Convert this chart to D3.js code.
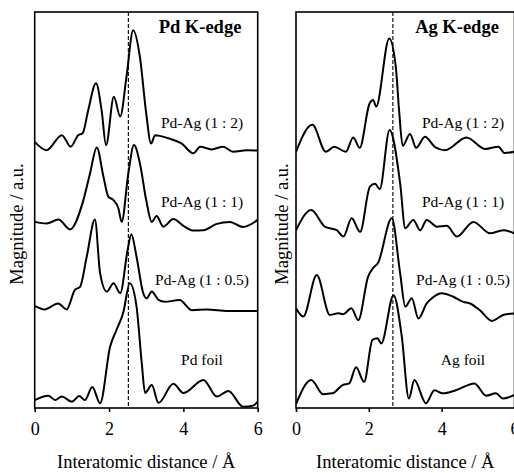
<!DOCTYPE html>
<html>
<head>
<meta charset="utf-8">
<script src="https://cdn.jsdelivr.net/npm/d3@7"></script>
<style>
  body { margin: 0; background: #fff; }
  svg { display: block; font-family: "Liberation Serif", "Times New Roman", serif; }
</style>
</head>
<body>
<div id="chart"></div>
<script>
//____________________________DATA________________________//
// [distance (Å), magnitude (a.u., stacked offset included)]
const pdFoil = [[0, 2.0], [0.37, 3.1], [0.55, 2.0], [0.73, 2.9], [1.0, 1.6], [1.2, 3.0], [1.35, 2.0], [1.55, 5.3],
    [1.76, 1.2], [2.03, 15.5], [2.2, 19.7], [2.38, 24.0], [2.56, 31.5], [2.74, 25.6], [2.88, 11.4], [2.97, 3.8],
    [3.15, 5.8], [3.33, 1.3], [3.73, 6.1], [4.0, 3.8], [4.54, 7.1], [4.9, 2.9], [5.21, 4.3], [5.61, 0.3], [5.88, 0.6], [6.0, 1.6]]

const pdAg105Pd = [[0, 25.8], [0.27, 24.9], [0.63, 26.4], [0.86, 24.9], [1.08, 29.8], [1.22, 30.6], [1.4, 38.2],
    [1.62, 47.6], [1.76, 34.0], [1.94, 29.4], [2.12, 31.5], [2.3, 29.0], [2.5, 39.9], [2.6, 43.9], [2.74, 38.2],
    [2.92, 29.0], [3.01, 27.7], [3.15, 29.4], [3.33, 27.3], [3.5, 26.8], [3.9, 27.3], [4.23, 24.7], [4.63, 24.9],
    [5.2, 24.5], [6.0, 24.5]]

const pdAg11Pd = [[0, 47.0], [0.32, 46.6], [0.64, 47.6], [0.95, 45.1], [1.31, 52.5], [1.49, 59.3], [1.67, 65.8],
    [1.85, 58.4], [1.98, 53.4], [2.12, 52.5], [2.25, 50.5], [2.34, 47.0], [2.52, 59.3], [2.67, 66.4], [2.83, 61.8],
    [3.0, 52.5], [3.15, 47.0], [3.28, 48.5], [3.46, 45.8], [3.73, 47.7], [4.0, 46.0], [4.27, 44.8], [4.54, 44.9],
    [4.9, 46.5], [5.25, 47.0], [5.6, 45.7], [6.0, 47.5]]

const pdAg12Pd = [[0, 67.2], [0.32, 65.1], [0.73, 68.9], [0.97, 66.0], [1.17, 68.9], [1.29, 69.4], [1.44, 75.2],
    [1.65, 82.0], [1.8, 75.2], [1.92, 66.4], [2.13, 78.6], [2.3, 73.6], [2.47, 83.7], [2.65, 95.4], [2.83, 88.7],
    [3.0, 74.4], [3.13, 66.8], [3.24, 68.9], [3.6, 68.1], [3.95, 66.8], [4.27, 64.3], [4.45, 66.0], [4.76, 65.3],
    [5.07, 66.0], [5.34, 64.7], [5.7, 65.1], [6.0, 65.0]]

const agFoil = [[0, 1.0], [0.42, 7.1], [0.74, 3.5], [1.0, 3.7], [1.28, 5.8], [1.46, 6.2], [1.65, 10.3], [1.87, 6.6],
    [2.1, 17.2], [2.24, 17.6], [2.34, 16.3], [2.68, 28.5], [2.9, 18.4], [3.1, 2.4], [3.25, 7.1], [3.57, 1.2],
    [3.8, 4.5], [4.03, 3.7], [4.39, 4.5], [4.9, 6.2], [5.22, 3.1], [5.49, 3.7], [5.68, 2.4], [6.0, 3.3]]

const pdAg105Ag = [[0, 25.2], [0.2, 23.1], [0.57, 33.6], [0.93, 23.5], [1.16, 23.9], [1.3, 23.7], [1.52, 25.2],
    [1.71, 22.2], [1.98, 33.2], [2.12, 35.4], [2.25, 36.6], [2.63, 47.9], [2.86, 34.0], [3.0, 25.6], [3.18, 27.7],
    [3.36, 22.6], [3.59, 26.4], [3.73, 27.7], [4.0, 29.0], [4.32, 28.1], [4.59, 26.8], [4.78, 26.4], [5.05, 24.7],
    [5.38, 22.0], [5.69, 23.5], [6.0, 23.9]]

const pdAg11Ag = [[0, 44.9], [0.42, 50.0], [0.79, 45.8], [1.12, 44.9], [1.3, 43.3], [1.53, 47.9], [1.76, 44.5],
    [2.03, 55.9], [2.17, 56.6], [2.3, 55.3], [2.57, 70.2], [2.86, 56.7], [3.0, 45.4], [3.22, 47.5], [3.41, 44.9],
    [3.59, 47.5], [3.87, 45.8], [4.14, 46.0], [4.42, 43.3], [4.87, 47.0], [5.33, 44.1], [5.69, 44.9], [6.0, 44.1]]

const pdAg12Ag = [[0, 64.7], [0.45, 71.5], [0.82, 64.7], [1.05, 66.0], [1.37, 64.7], [1.57, 68.3], [1.75, 65.7],
    [2.02, 76.9], [2.12, 77.8], [2.2, 76.1], [2.56, 93.3], [2.74, 86.2], [2.83, 75.2], [2.93, 66.2], [3.13, 69.2],
    [3.3, 65.7], [3.54, 68.5], [3.82, 65.9], [4.1, 65.1], [4.68, 68.3], [5.2, 65.4], [5.56, 66.0], [5.72, 64.4], [6.0, 64.7]]

const xTicks = [0, 2, 4, 6]
const pdLabels = ['Pd-Ag (1 : 2)', 'Pd-Ag (1 : 1)', 'Pd-Ag (1 : 0.5)', 'Pd foil']
const agLabels = ['Pd-Ag (1 : 2)', 'Pd-Ag (1 : 1)', 'Pd-Ag (1 : 0.5)', 'Ag foil']
// label anchor heights (a.u.) for each curve label
const labelLevels = [70.6, 50.8, 31.0, 10.9]
const pdEdge = 2.52
const agEdge = 2.66

//____________________________LAYOUT________________________//
const WIDTH = 514, HEIGHT = 473
const TOP = 12, BOTTOM = 408

const svg = d3.select('#chart').append('svg')
    .attr('width', WIDTH)
    .attr('height', HEIGHT)

const y = d3.scaleLinear()
    .domain([0, 100])
    .range([BOTTOM, TOP])

const line = d3.line()
    .curve(d3.curveMonotoneX)

const panels = [
    {id: 'pd', left: 34.7, right: 257.7, title: 'Pd K-edge', series: [pdAg12Pd, pdAg11Pd, pdAg105Pd, pdFoil],
        labels: pdLabels, edge: pdEdge, labelX: 202, titleX: 200, yLabelX: 17},
    {id: 'ag', left: 296, right: 514.5, title: 'Ag K-edge', series: [pdAg12Ag, pdAg11Ag, pdAg105Ag, agFoil],
        labels: agLabels, edge: agEdge, labelX: 463, titleX: 457, yLabelX: 282}
]

panels.forEach(p => {
    const x = d3.scaleLinear()
        .domain([0, 6])
        .range([p.left, p.right])

    const g = svg.append('g').attr('class', p.id)

    g.append('clipPath')
        .attr('id', `clip-${p.id}`)
        .append('rect')
        .attr('x', p.left)
        .attr('y', TOP)
        .attr('width', p.right - p.left)
        .attr('height', BOTTOM - TOP)

    // dashed reference line at the metal-metal distance
    g.append('line')
        .attr('x1', x(p.edge))
        .attr('x2', x(p.edge))
        .attr('y1', TOP)
        .attr('y2', BOTTOM)
        .attr('stroke', '#000')
        .attr('stroke-width', 1.1)
        .attr('stroke-dasharray', '4,2')

    g.append('g')
        .attr('clip-path', `url(#clip-${p.id})`)
        .selectAll('path')
        .data(p.series)
        .join('path')
        .attr('d', d => line(d.map(v => [x(v[0]), y(v[1])])))
        .attr('fill', 'none')
        .attr('stroke', '#000')
        .attr('stroke-width', 2)
        .attr('stroke-linejoin', 'round')

    // frame
    g.append('rect')
        .attr('x', p.left)
        .attr('y', TOP)
        .attr('width', p.right - p.left)
        .attr('height', BOTTOM - TOP)
        .attr('fill', 'none')
        .attr('stroke', '#000')
        .attr('stroke-width', 1.6)

    const xAxis = d3.axisBottom(x)
        .tickValues(xTicks)
        .tickSize(4)
        .tickPadding(10)
        .tickFormat(d3.format('d'))

    const ax = g.append('g')
        .attr('transform', `translate(0,${BOTTOM})`)
        .call(xAxis)
    ax.select('.domain').remove()
    ax.selectAll('line').attr('stroke', '#000').attr('stroke-width', 1.6)
    ax.selectAll('text')
        .attr('fill', '#000')
        .style('font-size', '18px')
        .style('font-family', '"Liberation Serif", serif')

    g.append('text')
        .attr('x', (p.left + p.right) / 2)
        .attr('y', 468)
        .attr('text-anchor', 'middle')
        .style('font-size', '18.5px')
        .text('Interatomic distance / Å')

    g.append('text')
        .attr('transform', `translate(${p.yLabelX + 6},224) rotate(-90)`)
        .attr('text-anchor', 'middle')
        .style('font-size', '18.5px')
        .text('Magnitude / a.u.')

    g.append('text')
        .attr('x', p.titleX)
        .attr('y', 33)
        .attr('text-anchor', 'middle')
        .attr('font-weight', 'bold')
        .style('font-size', '18.5px')
        .text(p.title)

    g.selectAll('.curve-label')
        .data(p.labels)
        .join('text')
        .attr('class', 'curve-label')
        .attr('x', p.labelX)
        .attr('y', (d, i) => y(labelLevels[i]))
        .attr('text-anchor', 'middle')
        .style('font-size', '15.5px')
        .text(d => d)
})
</script>
</body>
</html>
